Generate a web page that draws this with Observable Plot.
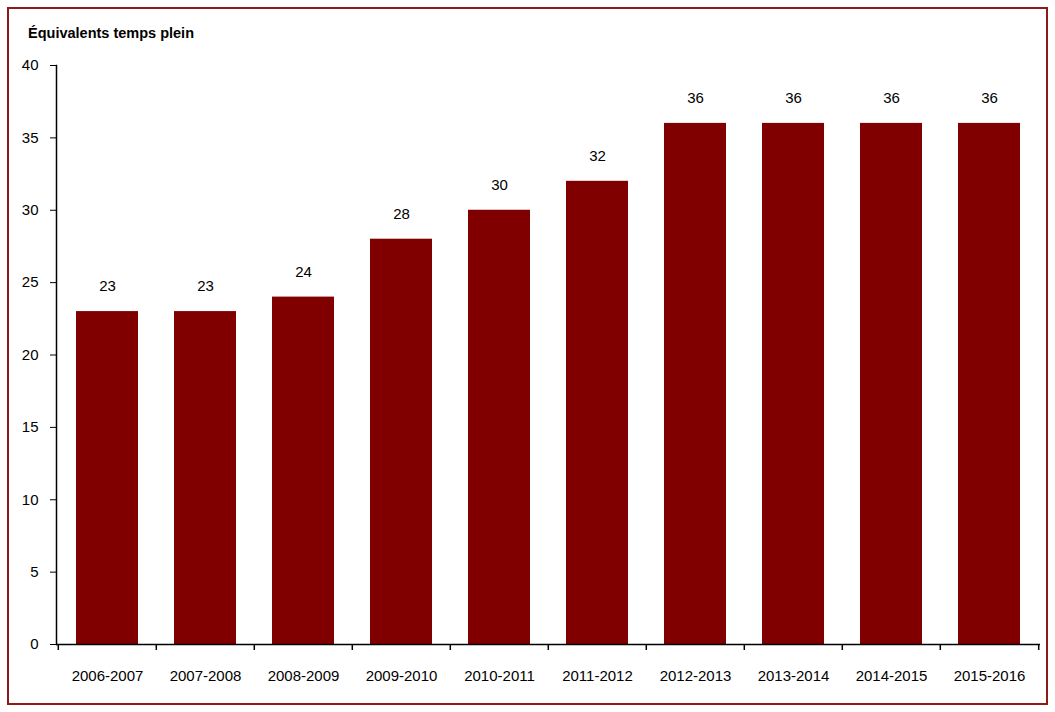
<!DOCTYPE html>
<html>
<head>
<meta charset="utf-8">
<script src="https://cdn.jsdelivr.net/npm/d3@7"></script>
<script src="https://cdn.jsdelivr.net/npm/@observablehq/plot@0.6"></script>
<style>
  html, body { margin: 0; padding: 0; background: #fff; }
  #wrap { position: relative; width: 1055px; height: 712px; font-family: "Liberation Sans", Arial, sans-serif; }
  #frame { position: absolute; left: 7px; top: 7px; width: 1037px; height: 694px; border: 2.5px solid #8b1a1a; box-sizing: content-box; }
  #title { position: absolute; left: 28px; top: 25px; font-size: 14.5px; font-weight: bold; color: #000; }
  #chart { position: absolute; left: 0; top: 0; }
</style>
</head>
<body>
<div id="wrap">
  <div id="frame"></div>
  <div id="title">Équivalents temps plein</div>
  <div id="chart"></div>
</div>
<script>
const years = ["2006-2007","2007-2008","2008-2009","2009-2010","2010-2011","2011-2012","2012-2013","2013-2014","2014-2015","2015-2016"];
const fte = [23, 23, 24, 28, 30, 32, 36, 36, 36, 36];
const yTicks = [0, 5, 10, 15, 20, 25, 30, 35, 40];

const data = years.map((y, i) => ({year: y, value: fte[i]}));

const W = 1055, H = 712, mL = 56, mR = 15, mT = 65, mB = 68;
const step = (W - mL - mR) / years.length;

const chart = Plot.plot({
  width: W,
  height: H,
  marginLeft: mL,
  marginRight: mR,
  marginTop: mT,
  marginBottom: mB,
  style: {fontFamily: "'Liberation Sans', Arial, sans-serif", fontSize: "14px", color: "#000", background: "transparent"},
  x: {domain: years, paddingInner: 0.365, paddingOuter: 0.1825, label: null},
  y: {domain: [0, 40], label: null},
  marks: [
    Plot.barY(data, {x: "year", y: "value", fill: "#800000"}),
    Plot.text(data, {x: "year", y: "value", text: d => String(d.value), dy: -25, fontSize: 15, fill: "#000"}),
    Plot.axisY({ticks: yTicks, tickSize: 6, tickPadding: 12, label: null, fontSize: 15, stroke: "#000"}),
    Plot.axisX({tickSize: 0, tickPadding: 26, label: null, fontSize: 15}),
    Plot.ruleX(years, {x: d => d, y1: 0, y2: 0, insetBottom: -6, dx: -step / 2, stroke: "#000", strokeWidth: 1.5}),
    Plot.ruleX([years[years.length - 1]], {x: d => d, y1: 0, y2: 0, insetBottom: -6, dx: step / 2, stroke: "#000", strokeWidth: 1.5}),
    Plot.ruleY([0], {stroke: "#000", strokeWidth: 1.5}),
    Plot.frame({anchor: "left", stroke: "#000", strokeWidth: 1.5})
  ]
});
document.getElementById("chart").appendChild(chart);
</script>
</body>
</html>
